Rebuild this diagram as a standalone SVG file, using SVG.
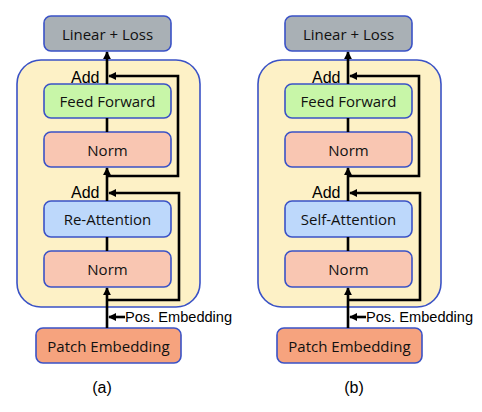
<svg xmlns="http://www.w3.org/2000/svg" width="482" height="412" viewBox="0 0 482 412">
<defs>
<style>
.box{stroke:#3a52c6;stroke-width:1.6}
.cont{fill:#fdf1c6;stroke:#3a52c6;stroke-width:1.6}
.gray{fill:#a9b0b5}
.green{fill:#c8f6a8}
.pink{fill:#f9c6b2}
.blue{fill:#bdd8fb}
.patch{fill:#f6a37e}
.lbl{font-family:"Open Sans","Liberation Sans",sans-serif;font-size:15px;fill:#111;text-anchor:middle;dominant-baseline:central}
.ar{font-family:"Liberation Sans",Arial,sans-serif;fill:#000}
.ln{fill:none;stroke:#000;stroke-width:2.6}
</style>
<marker id="ah" viewBox="0 0 10 10" refX="9" refY="5" markerWidth="3.2" markerHeight="3.6" orient="auto" markerUnits="strokeWidth">
<path d="M0,0 L10,5 L0,10 z" fill="#000"/>
</marker>
</defs>
<rect width="482" height="412" fill="#fff"/>

<g id="panel-a">
<g id="a-container"><rect class="cont" x="17" y="60" width="183" height="247" rx="24"/></g>
<g id="a-linear"><rect class="box gray" x="44" y="16" width="127" height="35" rx="7"/><text class="lbl" x="107.5" y="33.5">Linear + Loss</text></g>
<g id="a-ff"><rect class="box green" x="44" y="84" width="127" height="34" rx="7"/><text class="lbl" x="107.5" y="101">Feed Forward</text></g>
<g id="a-norm2"><rect class="box pink" x="44" y="132" width="127" height="35" rx="7"/><text class="lbl" x="107.5" y="149.5">Norm</text></g>
<g id="a-attn"><rect class="box blue" x="44" y="201" width="127" height="36" rx="7"/><text class="lbl" x="107.5" y="219">Re-Attention</text></g>
<g id="a-norm1"><rect class="box pink" x="44" y="251" width="127" height="36" rx="7"/><text class="lbl" x="107.5" y="269">Norm</text></g>
<g id="a-patch"><rect class="box patch" x="36" y="328" width="145" height="35" rx="7"/><text class="lbl" x="108.5" y="345.5">Patch Embedding</text></g>
<g id="a-connectors">
<path class="ln" d="M107,328 V288" marker-end="url(#ah)"/>
<path class="ln" d="M107,251 V237"/>
<path class="ln" d="M107,201 V168" marker-end="url(#ah)"/>
<path class="ln" d="M107,132 V118"/>
<path class="ln" d="M107,84 V52" marker-end="url(#ah)"/>
<path class="ln" d="M107,300 H179 V193 H109" marker-end="url(#ah)"/>
<path class="ln" d="M107,176 H178 V76 H109" marker-end="url(#ah)"/>
<path class="ln" d="M125,317 H109" stroke-width="2" marker-end="url(#ah)"/>
</g>
<text class="ar" x="71" y="83" font-size="16">Add</text>
<text class="ar" x="71" y="198" font-size="16">Add</text>
<text class="ar" x="125" y="322" font-size="14.6">Pos. Embedding</text>
<text class="ar" x="102" y="393" font-size="16" text-anchor="middle">(a)</text>
</g>

<g id="panel-b" transform="translate(241,0)">
<g id="b-container"><rect class="cont" x="17" y="60" width="183" height="247" rx="24"/></g>
<g id="b-linear"><rect class="box gray" x="44" y="16" width="127" height="35" rx="7"/><text class="lbl" x="107.5" y="33.5">Linear + Loss</text></g>
<g id="b-ff"><rect class="box green" x="44" y="84" width="127" height="34" rx="7"/><text class="lbl" x="107.5" y="101">Feed Forward</text></g>
<g id="b-norm2"><rect class="box pink" x="44" y="132" width="127" height="35" rx="7"/><text class="lbl" x="107.5" y="149.5">Norm</text></g>
<g id="b-attn"><rect class="box blue" x="44" y="201" width="127" height="36" rx="7"/><text class="lbl" x="107.5" y="219">Self-Attention</text></g>
<g id="b-norm1"><rect class="box pink" x="44" y="251" width="127" height="36" rx="7"/><text class="lbl" x="107.5" y="269">Norm</text></g>
<g id="b-patch"><rect class="box patch" x="36" y="328" width="145" height="35" rx="7"/><text class="lbl" x="108.5" y="345.5">Patch Embedding</text></g>
<g id="b-connectors">
<path class="ln" d="M107,328 V288" marker-end="url(#ah)"/>
<path class="ln" d="M107,251 V237"/>
<path class="ln" d="M107,201 V168" marker-end="url(#ah)"/>
<path class="ln" d="M107,132 V118"/>
<path class="ln" d="M107,84 V52" marker-end="url(#ah)"/>
<path class="ln" d="M107,300 H179 V193 H109" marker-end="url(#ah)"/>
<path class="ln" d="M107,176 H178 V76 H109" marker-end="url(#ah)"/>
<path class="ln" d="M125,317 H109" stroke-width="2" marker-end="url(#ah)"/>
</g>
<text class="ar" x="71" y="83" font-size="16">Add</text>
<text class="ar" x="71" y="198" font-size="16">Add</text>
<text class="ar" x="125" y="322" font-size="14.6">Pos. Embedding</text>
<text class="ar" x="113" y="393" font-size="16" text-anchor="middle">(b)</text>
</g>
</svg>
